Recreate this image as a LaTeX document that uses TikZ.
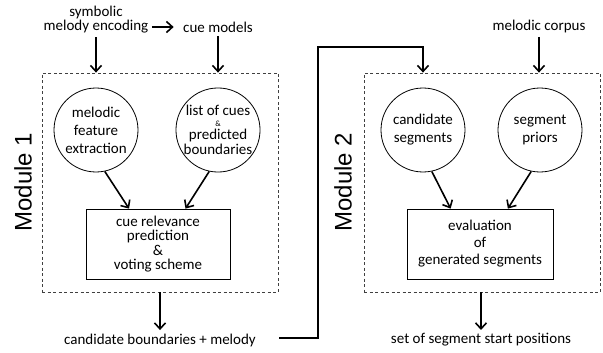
\documentclass[tikz,border=0pt]{standalone}
\usepackage{fontspec}
\setmainfont{Carlito}
\newfontfamily\modfont{Liberation Sans}
\usetikzlibrary{arrows.meta,calc,positioning}

\begin{document}
\begin{tikzpicture}[x=1pt,y=-1pt,
    every node/.style={font=\fontsize{15}{18}\selectfont,align=center},
    arr/.style={line width=1.6pt,-{Straight Barb[length=6pt,width=11pt]}},
    modbox/.style={draw=black!75,dash pattern=on 3pt off 2.5pt,line width=0.8pt,
        minimum width=236pt,minimum height=219pt},
    blob/.style={draw,circle,line width=0.8pt,minimum size=84pt,inner sep=0pt},
    proc/.style={draw,line width=0.8pt,minimum height=70pt,inner sep=0pt},
    modlabel/.style={rotate=90,font=\modfont\fontsize{24}{24}\selectfont}]
    \useasboundingbox (0,0) rectangle (603,353);

    % inputs
    \node[font=\fontsize{15}{14}\selectfont] (sym) at (96,20) {symbolic\\melody encoding};
    \node (cm) at (218,27) {cue models};
    \node (corp) at (539,27) {melodic corpus};
    \draw[arr,shorten >=6pt] (sym.east |- cm.west) -- (cm.west);

    % module 1
    \node[modbox] (m1) at (160,182.5) {};
    \node[modlabel] (t1) at (23,182) {Module 1};
    \node[blob] (mfe) at (96,130) {melodic\\feature\\extraction};
    \node[blob] (cues) at (218,130) {list of cues\\[-7pt]{\fontsize{8}{8}\selectfont\&}\\[-5pt]predicted\\[-3.5pt]boundaries};
    \node[proc,minimum width=144pt,font=\fontsize{15}{14.5}\selectfont] (vote) at (158,244) {cue relevance\\prediction\\\&\\voting scheme};

    % module 2
    \node[modbox] (m2) at (482,182.5) {};
    \node[modlabel] (t2) at (343,182) {Module 2};
    \node[blob] (cs) at (423,130) {candidate\\segments};
    \node[blob] (sp) at (540,130) {segment\\priors};
    \node[proc,minimum width=146pt,font=\fontsize{15}{17}\selectfont] (eval) at (480,244) {evaluation\\of\\generated segments};

    % outputs
    \node (cb) at (160,340) {candidate boundaries + melody};
    \node (ssp) at (481,340) {set of segment start positions};
    \coordinate (k) at (318,47);

    \draw[arr] (sym) -- (sym |- m1.north);
    \draw[arr] (cm) -- (cm |- m1.north);
    \draw[arr] (corp) -- (corp |- m2.north);
    \draw[arr] (mfe.-78) -- ($(vote.north west)!0.3!(vote.north east)$);
    \draw[arr] (cues.-102) -- ($(vote.north west)!0.69!(vote.north east)$);
    \draw[arr] (cs.-78) -- ($(eval.north west)!0.3!(eval.north east)$);
    \draw[arr] (sp.-102) -- ($(eval.north west)!0.69!(eval.north east)$);
    \draw[arr] (m1) -- (cb);
    \draw[arr] (m2.south -| ssp) -- (ssp);
    \draw[arr] ([xshift=20pt,yshift=2pt]cb.east) -| (k) -| (cs |- m2.north);
\end{tikzpicture}
\end{document}
